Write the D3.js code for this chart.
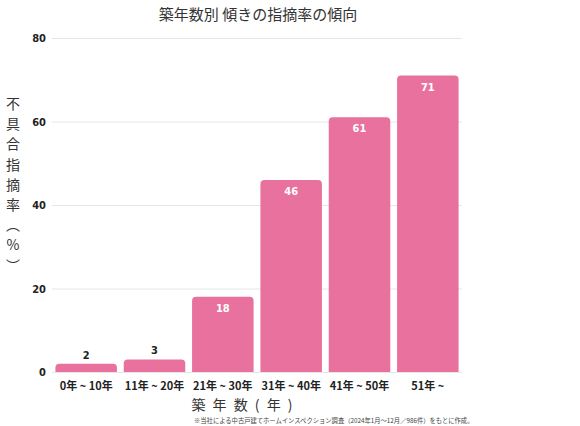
<!DOCTYPE html>
<html>
<head>
<meta charset="utf-8">
<script src="https://cdn.jsdelivr.net/npm/d3@7"></script>
<style>
  body { margin: 0; background: #fff; }
  svg { display: block; font-family: "Noto Sans CJK JP", "Noto Sans", sans-serif; }
</style>
</head>
<body>
<div id="chart"></div>
<script>
const categories = ["0年 ~ 10年", "11年 ~ 20年", "21年 ~ 30年", "31年 ~ 40年", "41年 ~ 50年", "51年 ~"];
const rates = [2, 3, 18, 46, 61, 71];
const yTicks = [0, 20, 40, 60, 80];
const yTitleChars = ["不", "具", "合", "指", "摘", "率", "︵", "%", "︶"];

const BAR_COLOR = "#E8719E";
const width = 580, height = 426;
const NUM_FONT = "'Liberation Sans Narrow', 'DejaVu Sans Condensed', sans-serif";

let svg = d3.select("#chart").append("svg")
  .attr("width", width)
  .attr("height", height);

let x = d3.scaleBand().domain(categories).range([52, 462]).paddingInner(0.1).paddingOuter(0.05);
let y = d3.scaleLinear().domain([0, 80]).range([372, 38]);

// title
svg.append("text")
  .attr("x", 258).attr("y", 20)
  .attr("text-anchor", "middle")
  .attr("font-size", 15)
  .attr("fill", "#333")
  .text("築年数別 傾きの指摘率の傾向");

// grid + y labels
let yAxis = svg.append("g")
  .attr("transform", "translate(52,0)")
  .call(d3.axisLeft(y).tickValues(yTicks).tickSize(-410).tickPadding(6));
yAxis.select(".domain").remove();
yAxis.selectAll(".tick line").attr("stroke", "#e6e6e6");
yAxis.selectAll(".tick text")
  .attr("font-family", NUM_FONT)
  .attr("font-weight", "bold")
  .attr("font-size", 11)
  .attr("fill", "#222");

// bars with rounded top corners
function barPath(d, i) {
  let x0 = x(categories[i]), w = x.bandwidth();
  let y0 = y(d), y1 = y(0), r = Math.min(4, (y1 - y0));
  return `M${x0},${y1} V${y0 + r} Q${x0},${y0} ${x0 + r},${y0} H${x0 + w - r} Q${x0 + w},${y0} ${x0 + w},${y0 + r} V${y1} Z`;
}
svg.append("g").selectAll("path")
  .data(rates)
  .join("path")
  .attr("d", barPath)
  .attr("fill", BAR_COLOR);

// value labels
svg.append("g").selectAll("text")
  .data(rates)
  .join("text")
  .attr("x", (d, i) => x(categories[i]) + x.bandwidth() / 2)
  .attr("y", d => d < 10 ? y(d) - 5 : y(d) + 15)
  .attr("text-anchor", "middle")
  .attr("font-family", NUM_FONT)
  .attr("font-weight", "bold")
  .attr("font-size", 11)
  .attr("fill", d => d < 10 ? "#222" : "#fff")
  .text(d => d);

// x axis labels
let xAxis = svg.append("g")
  .attr("transform", "translate(0,372)")
  .call(d3.axisBottom(x).tickSize(0).tickPadding(10));
xAxis.select(".domain").remove();
xAxis.selectAll(".tick text")
  .attr("font-family", "'Noto Sans CJK JP', sans-serif")
  .attr("font-weight", "bold")
  .attr("font-size", 11)
  .attr("fill", "#222");

// x axis title
svg.append("text")
  .attr("x", 243).attr("y", 410)
  .attr("text-anchor", "middle")
  .attr("font-size", 14)
  .attr("fill", "#333")
  .attr("letter-spacing", 2)
  .attr("xml:space", "preserve")
  .text("築 年 数 ( 年 )");

// y axis title (vertical)
svg.append("g").selectAll("text")
  .data(yTitleChars)
  .join("text")
  .attr("x", 13)
  .attr("y", (d, i) => 109 + i * 20.2)
  .attr("text-anchor", "middle")
  .attr("font-size", 14)
  .attr("fill", "#333")
  .text(d => d);

// footnote
svg.append("text")
  .attr("x", 194).attr("y", 423)
  .attr("font-size", 6.3)
  .attr("fill", "#444")
  .text("※当社による中古戸建てホームインスペクション調査（2024年1月～12月／986件）をもとに作成。");
</script>
</body>
</html>
